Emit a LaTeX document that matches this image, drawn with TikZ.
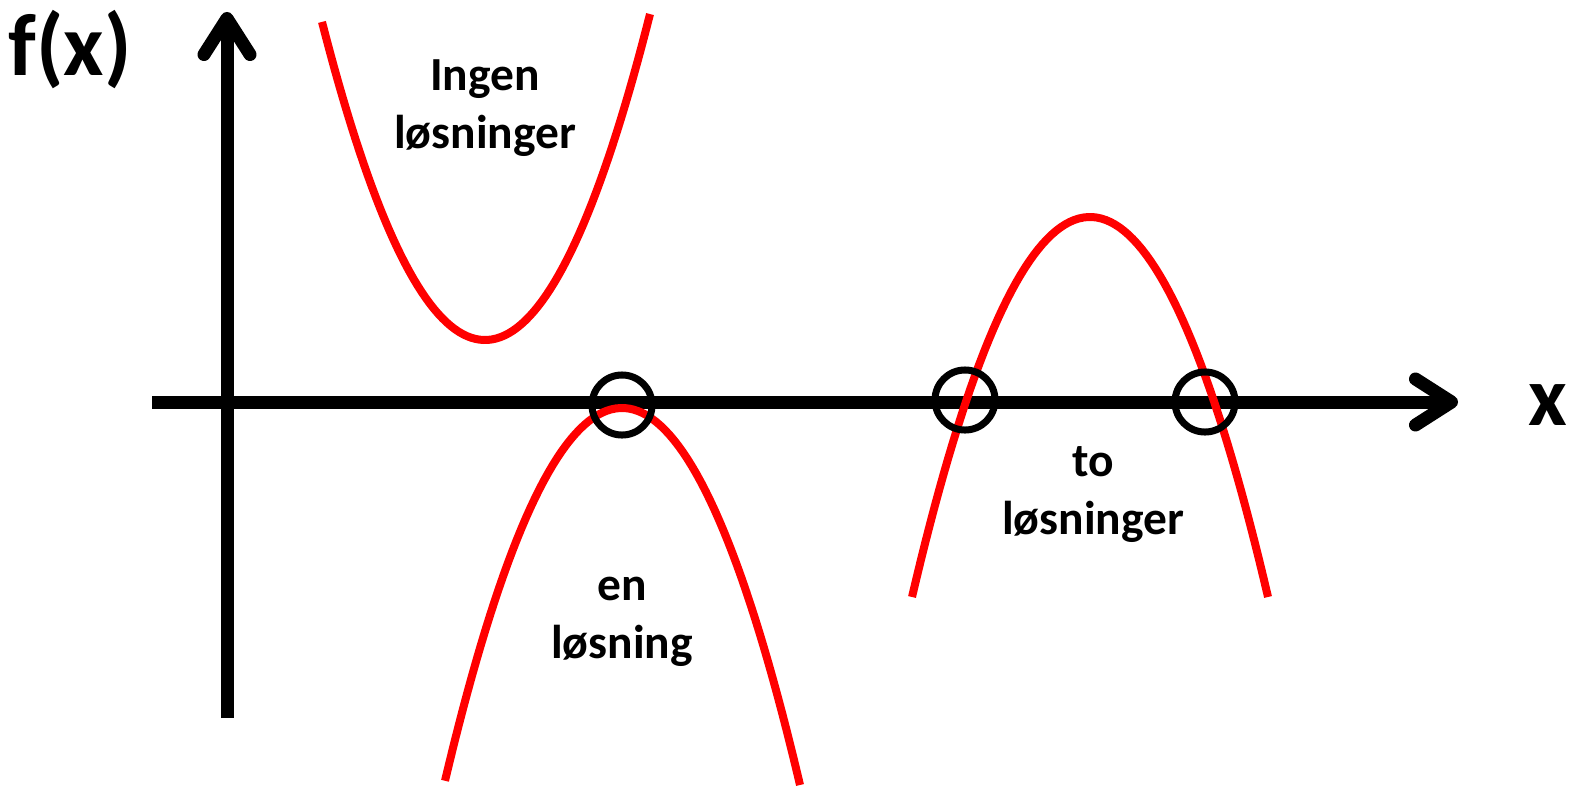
\documentclass[tikz,border=0pt]{standalone}
\usepackage{fontspec}
\setmainfont{Carlito}
\usetikzlibrary{arrows.meta}
\begin{document}
\begin{tikzpicture}[x=0.01cm, y=-0.01cm,
  axis/.style={line width=0.13cm, -{Straight Barb[length=0.36cm,width=0.46cm,line cap=round,line join=round]}},
  curve/.style={red, line width=0.08cm},
  root/.style={draw, circle, line width=0.07cm, minimum size=0.6cm, inner sep=0pt},
  lbl/.style={font=\fontsize{13.5}{16.5}\selectfont\bfseries, align=center}]
\useasboundingbox (0,0) rectangle (1571,785);
% axes
\coordinate (x0) at (152,402);
\coordinate (x1) at (1458,402);
\coordinate (y0) at (227,718);
\coordinate (y1) at (227,12);
\draw[axis] (x0) -- (x1);
\draw[axis] (y0) -- (y1);
\node[font=\fontsize{24}{28}\selectfont\bfseries] (xlab) at (1548,405) {x};
\node[font=\fontsize{25}{30}\selectfont\bfseries] (ylab) at (70,50) {f(x)};
% parabolas
\draw[curve] plot[domain=322:650, samples=80] (\x, {340-322*((\x-485)/164)^2});
\draw[curve] plot[domain=445:800, samples=80] (\x, {408+377*((\x-622)/178)^2});
\draw[curve] plot[domain=912:1268, samples=80] (\x, {217+380*((\x-1090)/178)^2});
% roots
\node[root] (r1) at (622,405) {};
\node[root] (r2) at (965,400) {};
\node[root] (r3) at (1205,402) {};
% labels
\node[lbl] (none) at (485,108) {Ingen\\løsninger};
\node[lbl] (one) at (622,622) {en\\løsning};
\node[lbl] (two) at (1093,495) {to\\løsninger};
\end{tikzpicture}
\end{document}
